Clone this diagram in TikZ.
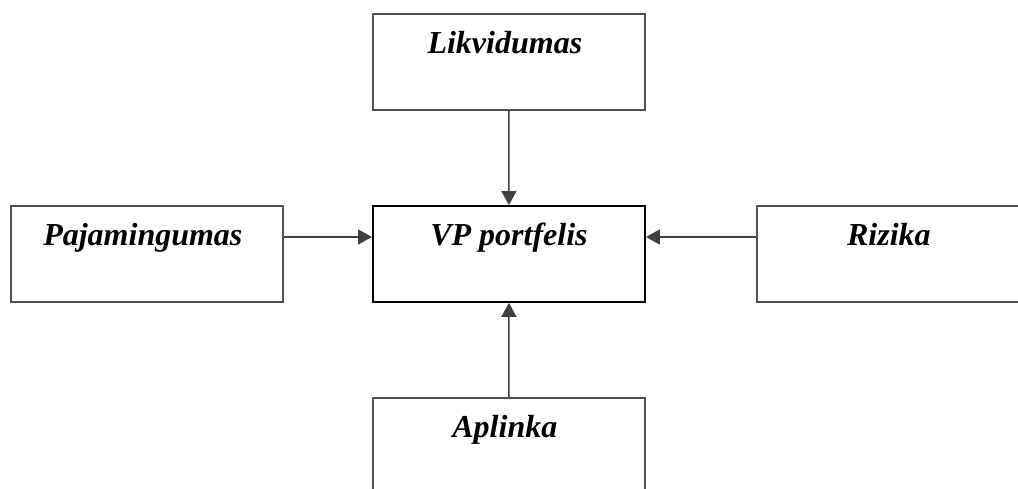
\documentclass[tikz,border=0pt]{standalone}
\usepackage{fontspec}
\setmainfont{Liberation Serif}
\usetikzlibrary{arrows.meta}
\definecolor{edgegray}{HTML}{505050}
\definecolor{arrowgray}{HTML}{404040}
\tikzset{
  box/.style={draw=edgegray, line width=1.7pt, rectangle, anchor=north west,
    minimum width=272pt, inner xsep=0pt, inner ysep=0pt,
    text height=40pt, text depth=56pt,
    font=\fontsize{32}{38}\selectfont\bfseries\itshape},
  mainbox/.style={box, draw=black, line width=1.9pt},
  conn/.style={draw=arrowgray, line width=1.6pt, -{Triangle[length=14pt,width=15pt]}}
}
\begin{document}
\begin{tikzpicture}[x=1pt,y=-1pt]
\useasboundingbox (0,0) rectangle (1018,488);
\clip (0,0) rectangle (1018,488);
\node[box] (lik) at (372,13) {\hspace*{-8pt}Likvidumas};
\node[mainbox] (vp) at (372,205) {VP portfelis};
\node[box] (paj) at (10,205) {\hspace*{-8pt}Pajamingumas};
\node[box] (riz) at (756,205) {\hspace*{-8pt}Rizika};
\node[box] (apl) at (372,397) {\hspace*{-8pt}Aplinka};
\draw[conn] (lik.south) -- (vp.north);
\draw[conn] ([yshift=-32pt]paj.north east) -- ([yshift=-32pt]vp.north west);
\draw[conn] ([yshift=-32pt]riz.north west) -- ([yshift=-32pt]vp.north east);
\draw[conn] (apl.north) -- (vp.south);
\end{tikzpicture}
\end{document}
